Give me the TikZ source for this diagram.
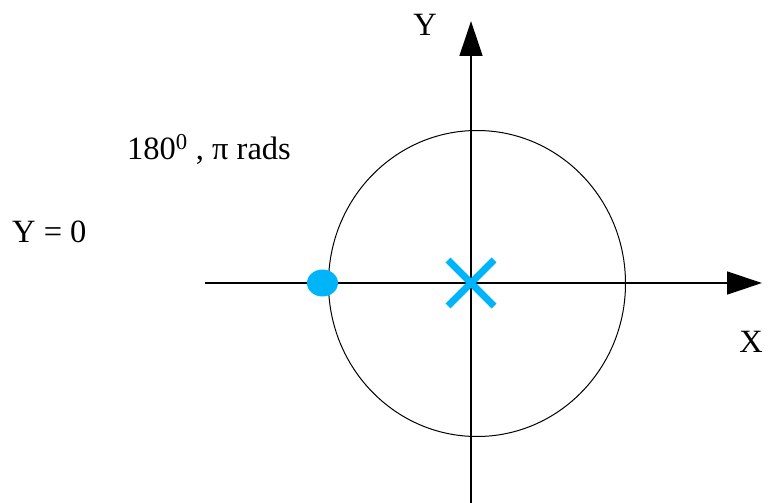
\documentclass[tikz,border=0pt]{standalone}
\usepackage{fontspec}
\setmainfont{Liberation Serif}
\usetikzlibrary{arrows.meta, calc}
\definecolor{dotcyan}{RGB}{0,180,250}
\tikzset{
  % Assi e testo
  axis/.style={line width=1.3pt,-{Triangle[length=35pt,width=23pt]}},
  lbl/.style={inner sep=0pt,font=\fontsize{32.5}{40}\selectfont},
  marker/.style={line width=7pt,dotcyan}
}
\begin{document}
\begin{tikzpicture}[x=1pt,y=-1pt]
  \useasboundingbox (0,0) rectangle (772,503);
  % Punti degli assi
  \coordinate (O) at (471,283);
  \coordinate (xl) at (205,283);
  \coordinate (xr) at (762,283);
  \coordinate (yb) at (471,503);
  \coordinate (yt) at (471,21);
  \draw[axis] (xl) -- (xr);
  \draw[axis] (yb) -- (yt);
  \node[lbl,anchor=base] (ylab) at (425,36) {Y};
  \node[lbl,anchor=base] (xlab) at (751,352) {X};
  % Cerchio
  \draw[line width=1pt] (477,283.5) ellipse (148.5 and 153);
  % Centro e punto a 180
  \draw[marker] ($(O)+(-23,-23)$) -- ($(O)+(23,23)$);
  \draw[marker] ($(O)+(-23,23)$) -- ($(O)+(23,-23)$);
  \fill[dotcyan] (322.5,283) ellipse (15.5 and 13.5);
  % Testi
  \node[lbl,anchor=base west] (ang) at (127,159) {180\textsuperscript{0} , π rads};
  \node[lbl,anchor=base west] (yzero) at (12,242) {Y = 0};
\end{tikzpicture}
\end{document}
